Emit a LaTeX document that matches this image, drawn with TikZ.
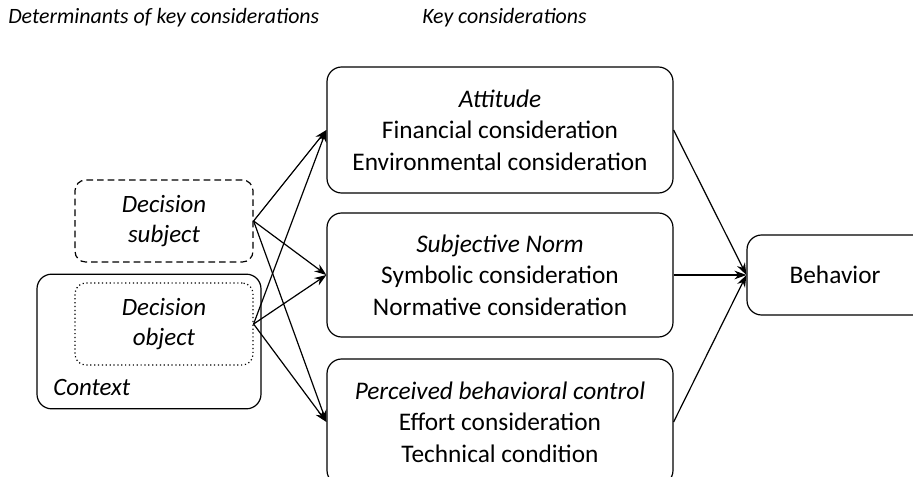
\documentclass[tikz,border=0pt]{standalone}
\usepackage{fontspec}
\setmainfont{Carlito}
\usepackage{tikz}
\usetikzlibrary{shapes,positioning,arrows.meta}
\tikzset{rec/.style={rectangle,draw,rounded corners=11pt,line width=0.9pt,align=center,inner sep=0pt,font=\fontsize{19}{23.5}\selectfont}}
\tikzset{det/.style={rectangle,draw,rounded corners=8pt,line width=0.9pt,align=center,inner sep=0pt,minimum width=133.5pt,minimum height=61.5pt,font=\fontsize{18.7}{22.5}\selectfont}}
\tikzset{head/.style={font=\fontsize{16.4}{18}\selectfont\itshape,anchor=base west,inner sep=0pt}}

\begin{document}
\begin{tikzpicture}[x=0.75pt,y=-0.75pt,>={Stealth[length=9pt,width=6.5pt]}]
        \useasboundingbox (0,0) rectangle (913,477);

        \node[head] (dethead) at (8,24) {Determinants of key considerations};
        \node[head] (keyhead) at (422,24) {Key considerations};

        \node[rec,minimum width=168pt,minimum height=101pt] (context) at (149,341.5) {};
        \node[anchor=base west,inner sep=0pt,font=\fontsize{18.7}{20}\selectfont\itshape] (ctxlabel) at (53,395) {Context};
        \node[det,dashed,dash pattern=on 5pt off 3pt] (subject) at (164,221) {\textit{Decision}\\\textit{subject}};
        \node[det,dotted] (object) at (164,324) {\textit{Decision}\\\textit{object}};

        \node[rec,minimum width=259.5pt,minimum height=94.5pt] (att) at (500,130) {\textit{Attitude}\\Financial consideration\\Environmental consideration};
        \node[rec,minimum width=259.5pt,minimum height=93pt] (norm) at (500,275) {\textit{Subjective Norm}\\Symbolic consideration\\Normative consideration};
        \node[rec,minimum width=259.5pt,minimum height=94.5pt] (pbc) at (500,422) {\textit{Perceived behavioral control}\\Effort consideration\\Technical condition};

        % box runs past the right edge of the page
        \node[rec,minimum width=180pt,minimum height=60pt] (beh) at (867,275) {Behavior\hspace*{48pt}};

        \draw [->,line width=0.9pt] (subject.east) to (att.west);
        \draw [->,line width=0.9pt] (subject.east) to (norm.west);
        \draw [->,line width=0.9pt] (subject.east) to (pbc.west);
        \draw [->,line width=0.9pt] (object.east) to (att.west);
        \draw [->,line width=0.9pt] (object.east) to (norm.west);
        \draw [->,line width=0.9pt] (object.east) to (pbc.west);
        \draw [->,line width=0.9pt] (att.east) to (beh.west);
        \draw [->,line width=0.9pt] (norm.east) to (beh.west);
        \draw [->,line width=0.9pt] (pbc.east) to (beh.west);
    \end{tikzpicture}
\end{document}
